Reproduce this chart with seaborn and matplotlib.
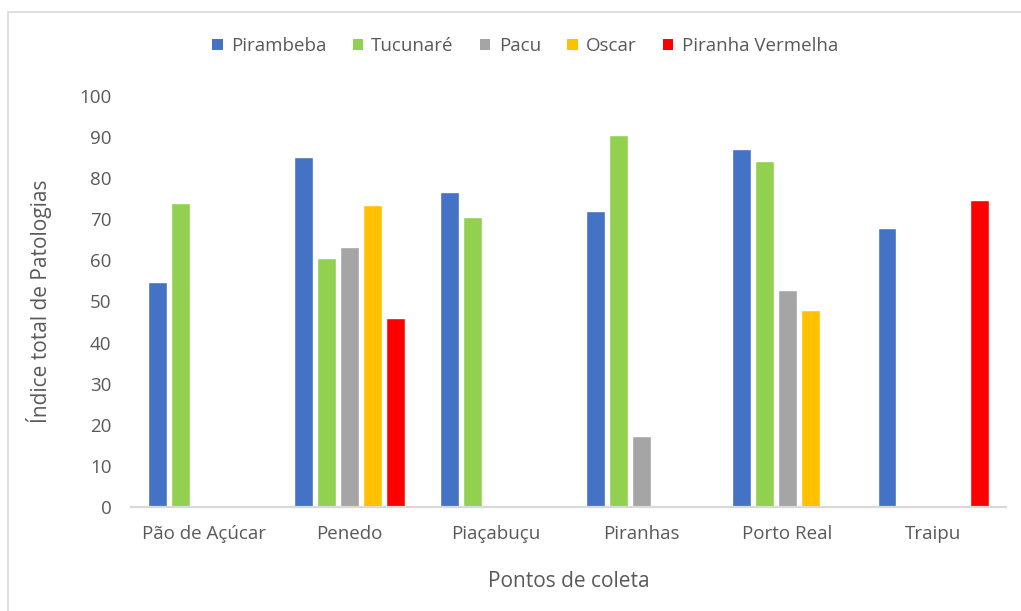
import numpy as np
import pandas as pd
import matplotlib
matplotlib.use("Agg")
import matplotlib.pyplot as plt
from matplotlib.patches import Rectangle, Patch
import seaborn as sns

# Collection sites and fish species
sites = ["Pão de Açúcar", "Penedo", "Piaçabuçu", "Piranhas", "Porto Real", "Traipu"]
species = ["Pirambeba", "Tucunaré", "Pacu", "Oscar", "Piranha Vermelha"]

# Total pathology index per species at each site (None = species not sampled)
pirambeba = [54.7, 85.2, 76.6, 72.1, 87.2, 68.0]
tucunare = [74.0, 60.5, 70.6, 90.6, 84.1, None]
pacu = [None, 63.3, None, 17.2, 52.7, None]
oscar = [None, 73.4, None, None, 47.9, None]
piranha_vermelha = [None, 45.9, None, None, None, 74.6]

colors = ["#4472C4", "#92D050", "#A5A5A5", "#FFC000", "#FF0000"]
text_color = "#595959"

series = [pirambeba, tucunare, pacu, oscar, piranha_vermelha]
rows = []
for sp, vals in zip(species, series):
    for site, v in zip(sites, vals):
        if v is not None:
            rows.append({"site": site, "species": sp, "value": v})
df = pd.DataFrame(rows)

sns.set_theme(style="white")
plt.rcParams["font.family"] = ["Open Sans", "DejaVu Sans"]

fig = plt.figure(figsize=(10.21, 6.11), dpi=100)
ax = fig.add_axes([131 / 1021, 1 - 507 / 611, 875 / 1021, 411 / 611])

sns.barplot(data=df, x="site", y="value", hue="species", order=sites,
            hue_order=species, palette=colors, width=0.79, dodge=True,
            saturation=1, errorbar=None, legend=False, ax=ax, zorder=2)

# leave a thin white gap between neighbouring bars
for p in ax.patches:
    w = p.get_width()
    p.set_x(p.get_x() + w * 0.09)
    p.set_width(w * 0.82)

ax.set_ylim(0, 100)
ax.set_xlim(-0.5, len(sites) - 0.5)
ax.set_yticks(np.arange(0, 101, 10))
for s in ["top", "right", "left"]:
    ax.spines[s].set_visible(False)
ax.spines["bottom"].set_color("#D9D9D9")
ax.spines["bottom"].set_linewidth(1.6)
ax.spines["bottom"].set_zorder(3)
ax.tick_params(axis="both", length=0, labelsize=13.5, colors=text_color)
ax.tick_params(axis="y", pad=14)
ax.tick_params(axis="x", pad=13)

ax.set_xlabel("Pontos de coleta", fontsize=15, color=text_color, labelpad=20)
ax.set_ylabel("Índice total de Patologias", fontsize=15, color=text_color, labelpad=20)

handles = [Patch(facecolor=c, edgecolor="none") for c in colors]
fig.legend(handles, species, loc="center", bbox_to_anchor=(525 / 1021, 1 - 46 / 611),
           ncol=5, frameon=False, fontsize=13.5, handlelength=0.55, handleheight=0.55,
           handletextpad=0.45, columnspacing=1.4, labelcolor=text_color)

# chart area border
fig.patches.append(Rectangle((8 / 1021, -0.1), 1.2, 1.1 - 12 / 611, transform=fig.transFigure,
                             fill=False, edgecolor="#D9D9D9", linewidth=1.2, zorder=0))

fig.savefig("out.png", dpi=100, facecolor="white")
